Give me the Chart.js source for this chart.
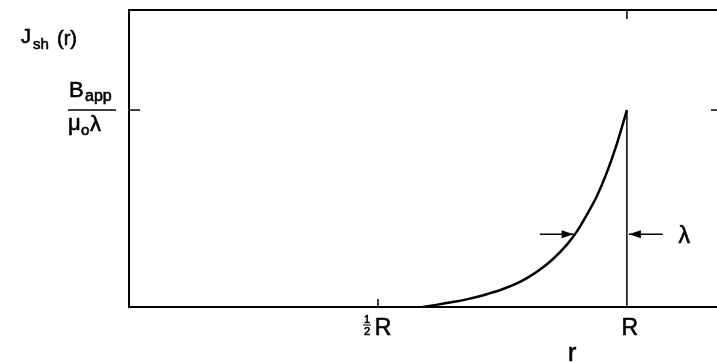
<!DOCTYPE html>
<html>
<head>
<meta charset="utf-8">
<script src="https://cdn.jsdelivr.net/npm/chart.js@4"></script>
<style>
  html, body { margin: 0; padding: 0; background: #fff; overflow: hidden; }
  #wrap { width: 727px; height: 362px; }
</style>
</head>
<body>
<div id="wrap"><canvas id="mycanvas" width="727" height="362"></canvas></div>
<script>
// values (r in units of R, J in units of Bapp/(mu0 lambda))
var curveR = [0.59, 0.62, 0.65, 0.68, 0.70, 0.72, 0.75, 0.78, 0.80, 0.82, 0.85, 0.88, 0.90, 0.92, 0.94, 0.96, 0.98, 1.00];
var curveJ = [0.00, 0.012, 0.025, 0.04, 0.052, 0.066, 0.09, 0.121, 0.148, 0.18, 0.24, 0.318, 0.385, 0.47, 0.565, 0.685, 0.83, 1.00];
var edgeR = [1.00, 1.00];
var edgeJ = [0.00, 1.00];
var xTicks = [0.5, 1.0];
var yTicks = [1.0];
var arrowJ = 0.37;
var leftArrow = [0.825, 0.893];
var rightArrow = [1.072, 1.004];
var lambdaR = 1.115;

function pts(xs, ys) {
	var out = [];
	for (var i in xs) out.push({x: xs[i], y: ys[i]});
	return out;
}

var ink = '#000';
var fontName = '"Liberation Sans", Arial, sans-serif';

function arrow(ctx, x0, x1, y) {
	var dir = x1 > x0 ? 1 : -1;
	ctx.beginPath();
	ctx.moveTo(x0, y);
	ctx.lineTo(x1, y);
	ctx.stroke();
	ctx.beginPath();
	ctx.moveTo(x1, y);
	ctx.lineTo(x1 - dir * 12, y - 4);
	ctx.lineTo(x1 - dir * 12, y + 4);
	ctx.closePath();
	ctx.fill();
}

// text a little heavier, like the scanned original
function txt(ctx, s, x, y) {
	ctx.fillText(s, x, y);
	ctx.lineWidth = 0.6;
	ctx.strokeText(s, x, y);
}

var decor = {
	id: 'decor',
	afterDraw: function(chart) {
		var ctx = chart.ctx, a = chart.chartArea;
		var xs = chart.scales.x, ys = chart.scales.y;
		ctx.save();
		ctx.strokeStyle = ink;
		ctx.fillStyle = ink;
		ctx.lineWidth = 2;
		ctx.strokeRect(a.left, a.top, a.right - a.left, a.bottom - a.top);

		// inward ticks
		ctx.lineWidth = 1.5;
		yTicks.forEach(function(v) {
			var py = ys.getPixelForValue(v);
			ctx.beginPath(); ctx.moveTo(a.left, py); ctx.lineTo(a.left + 11, py); ctx.stroke();
			ctx.beginPath(); ctx.moveTo(a.right, py); ctx.lineTo(a.right - 11, py); ctx.stroke();
		});
		var pH = xs.getPixelForValue(xTicks[0]);
		var pR = xs.getPixelForValue(xTicks[1]);
		ctx.beginPath(); ctx.moveTo(pH, a.bottom); ctx.lineTo(pH, a.bottom - 8); ctx.stroke();
		ctx.beginPath(); ctx.moveTo(pR, a.top); ctx.lineTo(pR, a.top + 9); ctx.stroke();

		// x tick labels
		ctx.textBaseline = 'alphabetic';
		ctx.textAlign = 'center';
		ctx.font = '23px ' + fontName;
		txt(ctx, 'R', pR + 3, 335);
		txt(ctx, 'R', pH + 5, 335);
		ctx.font = '11px ' + fontName;
		txt(ctx, '1', pH - 11, 323);
		txt(ctx, '2', pH - 11, 335);
		ctx.lineWidth = 1;
		ctx.beginPath(); ctx.moveTo(pH - 15, 325); ctx.lineTo(pH - 7, 325); ctx.stroke();

		// x axis title
		ctx.font = '25px ' + fontName;
		txt(ctx, 'r', xs.getPixelForValue(0.89), 361);

		// y axis title J_sh (r)
		ctx.textAlign = 'left';
		ctx.font = '20px ' + fontName;
		txt(ctx, 'J', 21, 43);
		ctx.font = '15px ' + fontName;
		txt(ctx, 'sh', 33, 49);
		ctx.font = '20px ' + fontName;
		txt(ctx, '(r)', 57, 45);

		// y tick label Bapp / (mu0 lambda)
		var py1 = ys.getPixelForValue(yTicks[0]);
		ctx.font = '22px ' + fontName;
		txt(ctx, 'B', 69, py1 - 13);
		ctx.font = '16px ' + fontName;
		txt(ctx, 'app', 85, py1 - 9);
		ctx.lineWidth = 1.5;
		ctx.beginPath(); ctx.moveTo(68, py1); ctx.lineTo(116, py1); ctx.stroke();
		ctx.font = '22px ' + fontName;
		txt(ctx, '\u03bc', 68, py1 + 20);
		ctx.font = '15px ' + fontName;
		txt(ctx, 'o', 81, py1 + 25);
		ctx.font = '22px ' + fontName;
		txt(ctx, '\u03bb', 90, py1 + 21);

		// lambda arrows
		ctx.lineWidth = 1.5;
		var pa = ys.getPixelForValue(arrowJ);
		arrow(ctx, xs.getPixelForValue(leftArrow[0]), xs.getPixelForValue(leftArrow[1]), pa);
		arrow(ctx, xs.getPixelForValue(rightArrow[0]), xs.getPixelForValue(rightArrow[1]), pa);
		ctx.font = '23px ' + fontName;
		ctx.textAlign = 'center';
		txt(ctx, '\u03bb', xs.getPixelForValue(lambdaR), pa + 9);
		ctx.restore();
	}
};

var chartdata = {
	datasets: [
		{
			data: pts(curveR, curveJ),
			showLine: true,
			borderColor: ink,
			borderWidth: 2.5,
			pointRadius: 0,
			cubicInterpolationMode: 'monotone'
		},
		{
			data: pts(edgeR, edgeJ),
			showLine: true,
			borderColor: ink,
			borderWidth: 1.5,
			pointRadius: 0
		}
	]
};

var ctx = document.getElementById('mycanvas');

var graph = new Chart(ctx, {
	type: 'scatter',
	data: chartdata,
	options: {
		responsive: false,
		animation: false,
		devicePixelRatio: 1,
		layout: { padding: { left: 0, top: 10, right: 5, bottom: 0 } },
		plugins: { legend: { display: false }, tooltip: { enabled: false } },
		scales: {
			x: {
				type: 'linear', min: 0, max: 1.191,
				ticks: { display: false },
				grid: { display: false },
				border: { display: false },
				afterFit: function(s) { s.height = 55; }
			},
			y: {
				type: 'linear', min: 0, max: 1.508,
				ticks: { display: false },
				grid: { display: false },
				border: { display: false },
				afterFit: function(s) { s.width = 129; }
			}
		}
	},
	plugins: [decor]
});
</script>
</body>
</html>
